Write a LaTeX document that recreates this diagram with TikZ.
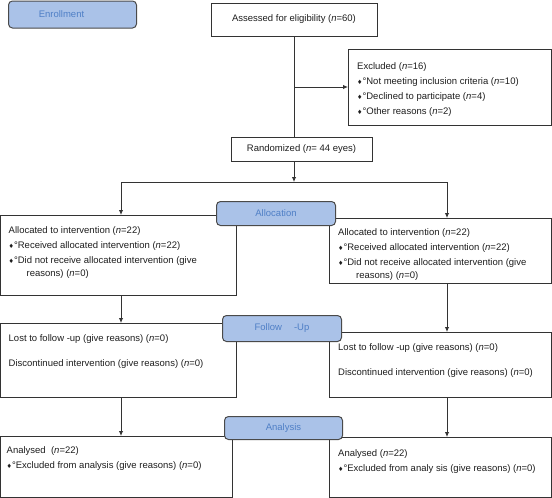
\documentclass[tikz,border=0pt]{standalone}
\usepackage{fontspec}
\setmainfont{Liberation Sans}
\newfontfamily\symfont{DejaVu Sans}
\usepackage{tikz}
\usetikzlibrary{positioning}
\usetikzlibrary{arrows.meta}
\tikzset{>={Latex[length=5pt,width=4.5pt]}}
\usepackage{xcolor}
\definecolor{boxcol}{HTML}{333333}
\definecolor{txtcol}{HTML}{1E1E1E}
\definecolor{labfill}{HTML}{AAC2E8}
\definecolor{labdraw}{HTML}{4A4A4A}
\definecolor{labtext}{HTML}{4F7FC6}
\newcommand\bul{{\symfont\fontsize{6}{6}\selectfont ♦}°}
\tikzstyle{box}=[draw=boxcol,line width=1pt,anchor=north west,inner sep=0,outer sep=0,text=txtcol]
\tikzstyle{stage}=[draw=labdraw,line width=1pt,fill=labfill,rounded corners=4pt,text=labtext,anchor=north west,inner sep=0]
\tikzstyle{txt}=[align=left,inner sep=0,text=txtcol]
\tikzstyle{conn}=[->,line width=0.9pt,boxcol]
\tikzstyle{line}=[line width=0.9pt,boxcol]

\begin{document}
\begin{tikzpicture}[x=1pt,y=-1pt]
  \tikzstyle{every node}=[font=\fontsize{9.5}{15}\selectfont]
  \useasboundingbox (0,0) rectangle (552,498);
  \def\colL{121}
  \def\colR{447}
  \def\splitY{182}
  \coordinate (splitL) at (\colL,\splitY);
  \coordinate (splitR) at (\colR,\splitY);

  % enrollment
  \node[box,minimum width=166pt,minimum height=33pt] (assess) at (211,3) {Assessed for eligibility (\textit{n}=60)};
  \node[box,minimum width=203pt,minimum height=76pt] (excl) at (348,49) {};
  \node[txt,below right=13pt and 9pt of excl.north west] (exclT) {Excluded (\textit{n}=16)\\
    \bul Not meeting inclusion criteria (\textit{n}=10)\\
    \bul Declined to participate (\textit{n}=4)\\
    \bul Other reasons (\textit{n}=2)};
  \node[box,minimum width=141pt,minimum height=24pt] (rand) at (231,137) {Randomized (\textit{n}= 44 eyes)};
  \coordinate (split) at (splitL -| assess.south);

  % allocation
  \node[box,minimum width=235.5pt,minimum height=80pt] (allocL) at (0.5,215) {};
  \node[txt,below right=11pt and 8pt of allocL.north west] (allocLT) {Allocated to intervention (\textit{n}=22)\\
    \bul Received allocated intervention (\textit{n}=22)\\
    \bul Did not receive allocated intervention (give\\[-2pt]
    \hspace*{18pt}reasons) (\textit{n}=0)};
  \node[box,minimum width=222.5pt,minimum height=65pt] (allocR) at (329,218) {};
  \node[txt,below right=10pt and 9pt of allocR.north west] (allocRT) {Allocated to intervention (\textit{n}=22)\\
    \bul Received allocated intervention (\textit{n}=22)\\
    \bul Did not receive allocated intervention (give\\[-2pt]
    \hspace*{18pt}reasons) (\textit{n}=0)};

  % follow-up
  \node[box,minimum width=235.5pt,minimum height=74pt] (followL) at (0.5,323) {};
  \node[txt,below right=11pt and 8pt of followL.north west] (followLT) {Lost to follow -up (give reasons) (\textit{n}=0)\\[10pt]
    Discontinued intervention (give reasons) (\textit{n}=0)};
  \node[box,minimum width=222.5pt,minimum height=65pt] (followR) at (329,332) {};
  \node[txt,below right=11pt and 9pt of followR.north west] (followRT) {Lost to follow -up (give reasons) (\textit{n}=0)\\[10pt]
    Discontinued intervention (give reasons) (\textit{n}=0)};

  % analysis
  \node[box,minimum width=231.5pt,minimum height=61pt] (anaL) at (0.5,436) {};
  \node[txt,below right=10pt and 6pt of anaL.north west] (anaLT) {Analysed\ \ (\textit{n}=22)\\
    \bul Excluded from analysis (give reasons) (\textit{n}=0)};
  \node[box,minimum width=222.5pt,minimum height=60.5pt] (anaR) at (329,437) {};
  \node[txt,below right=12pt and 9pt of anaR.north west] (anaRT) {Analysed (\textit{n}=22)\\
    \bul Excluded from analy sis (give reasons) (\textit{n}=0)};

  % connectors
  \draw[line] (assess.south) -- (assess.south |- rand.north);
  \draw[conn] (assess.south |- excl.west) -- (excl.west);
  \draw[conn] (split |- rand.south) -- (split);
  \draw[line] (splitL) -- (splitR);
  \draw[conn] (splitL) -- (splitL |- allocL.north);
  \draw[conn] (splitR) -- (splitR |- allocR.north);
  \draw[conn] (splitL |- allocL.south) -- (splitL |- followL.north);
  \draw[conn] (splitR |- allocR.south) -- (splitR |- followR.north);
  \draw[conn] (splitL |- followL.south) -- (splitL |- anaL.north);
  \draw[conn] (splitR |- followR.south) -- (splitR |- anaR.north);

  % stages
  \node[stage,minimum width=128pt,minimum height=27pt] (enrol) at (8,0.5) {Enrollment\hspace*{22pt}};
  \node[stage,minimum width=119pt,minimum height=24pt] (allocS) at (216,201) {Allocation};
  \node[stage,minimum width=119pt,minimum height=26pt] (followS) at (222,315) {Follow\hspace{12pt}-Up};
  \node[stage,minimum width=118pt,minimum height=23pt] (anaS) at (224,416) {Analysis};
\end{tikzpicture}
\end{document}
